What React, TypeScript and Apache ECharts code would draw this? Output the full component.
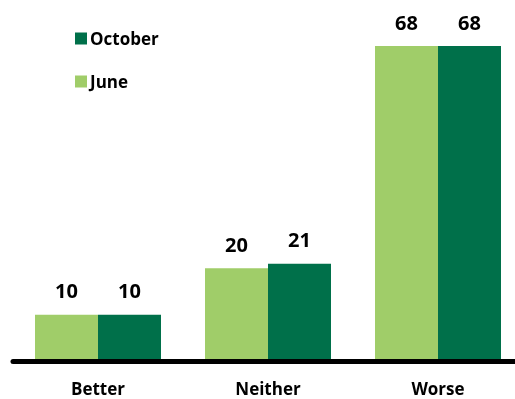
import React, { useEffect, useRef } from "react";
import * as echarts from "echarts";

const categories = ["Better", "Neither", "Worse"];
const juneValues = [10, 20, 68];
const octoberValues = [10, 21, 68];

export default function App() {
  const ref = useRef<HTMLDivElement>(null);
  useEffect(() => {
    const chart = echarts.init(ref.current!, null, { renderer: "svg" });
    const font = "'Open Sans', 'Noto Sans', sans-serif";
    const labelStyle = {
      show: true,
      position: "top" as const,
      distance: 14,
      color: "#000",
      fontWeight: "bold" as const,
      fontSize: 20,
      fontFamily: font,
    };
    chart.setOption({
      animation: false,
      legend: {
        data: ["October", "June"],
        orient: "vertical",
        left: 70,
        top: 25,
        itemWidth: 12,
        itemHeight: 12,
        itemGap: 26,
        icon: "rect",
        textStyle: {
          fontSize: 17,
          fontWeight: "bold",
          color: "#000",
          fontFamily: font,
          padding: [0, 0, 0, -2],
        },
      },
      grid: { left: 13, top: 46, width: 510, height: 315 },
      xAxis: {
        type: "category",
        data: categories,
        z: 5,
        axisLine: { lineStyle: { color: "#000", width: 5 } },
        axisTick: { show: false },
        axisLabel: {
          margin: 19,
          lineHeight: 17,
          color: "#000",
          fontWeight: "bold",
          fontSize: 17,
          fontFamily: font,
        },
      },
      yAxis: {
        type: "value",
        min: 0,
        max: 68,
        show: false,
        splitLine: { show: false },
      },
      series: [
        {
          name: "June",
          type: "bar",
          data: juneValues,
          barWidth: 63,
          barGap: "0%",
          itemStyle: { color: "#A0CD69" },
          label: labelStyle,
        },
        {
          name: "October",
          type: "bar",
          data: octoberValues,
          barWidth: 63,
          barGap: "0%",
          itemStyle: { color: "#00704A" },
          label: labelStyle,
        },
      ],
    });
    return () => chart.dispose();
  }, []);
  return (
    <div
      style={{
        position: "fixed",
        left: 0,
        top: 0,
        width: 515,
        height: 399,
        overflow: "hidden",
      }}
    >
      <div ref={ref} style={{ width: 530, height: 399 }} />
    </div>
  );
}
